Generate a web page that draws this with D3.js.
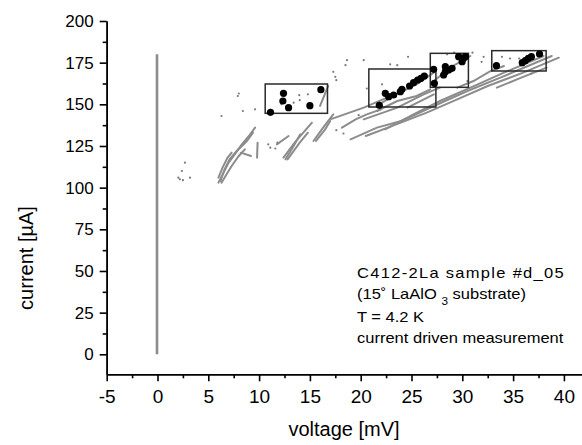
<!DOCTYPE html>
<html>
<head>
<meta charset="utf-8">
<script src="https://cdn.jsdelivr.net/npm/d3@7"></script>
<style>
  body { margin: 0; background: #fff; }
  svg { font-family: "Liberation Sans", Arial, Helvetica, sans-serif; }
  .axis path, .axis line { stroke: #000; stroke-width: 1.6; }
  .axis text { fill: #000; }
</style>
</head>
<body>
<div id="chart-area"></div>
<script>
// tick values
const xTicks = [-5, 0, 5, 10, 15, 20, 25, 30, 35, 40]
const yTicks = [0, 25, 50, 75, 100, 125, 150, 175, 200]

// vertical supercurrent branch near 0 mV
const zeroBranch = [[-0.05, 0], [-0.05, 180]]

// gray voltage branches [mV, µA]
const streaks = [
  [[6.0, 103], [6.5, 109], [7.0, 115], [7.6, 120], [8.3, 126], [9.0, 131], [9.6, 136]],
  [[6.3, 103], [6.8, 108], [7.3, 113], [8.0, 119], [8.6, 123]],
  [[6.0, 106], [6.4, 112], [6.9, 118], [7.3, 121]],
  [[6.2, 104], [6.6, 111], [7.1, 117], [7.8, 122], [8.8, 128], [9.4, 133]],
  [[9.8, 118], [9.85, 127]],
  [[8.2, 121], [9.2, 119]],
  [[11.75, 126], [12.9, 131]],
  [[12.6, 117], [13.3, 124], [14.05, 132]],
  [[12.4, 118], [13.5, 127], [15.2, 139]],
  [[12.8, 117], [14.0, 127], [14.8, 133]],
  [[15.35, 128], [16.3, 136], [17.3, 144]],
  [[15.6, 128], [16.5, 135], [17.0, 140]],
  [[16.0, 149], [16.4, 155], [16.8, 161]],
  [[18.15, 136], [19.5, 141], [20.6, 144], [22.0, 147]],
  [[19.0, 129], [21.6, 136], [24.0, 140], [27.2, 149], [30.5, 158], [33.75, 166], [38.8, 179]],
  [[22.4, 135], [25.2, 144], [27.8, 152], [30.8, 160], [34.1, 169], [38.0, 179]],
  [[20.5, 131], [23.5, 138], [26.5, 145], [29.5, 153], [32.5, 161], [36.0, 169], [39.5, 178]],
  [[17.0, 141], [20.3, 148], [22.6, 154]],
  [[20.3, 141], [23.6, 148], [26.2, 156], [27.8, 160]],
  [[21.6, 146], [23.6, 152], [25.5, 155], [26.85, 159]],
  [[24.6, 148], [27.2, 156]],
  [[21.8, 150], [23.5, 156], [25.5, 162], [27.2, 169]],
  [[27.2, 164], [28.8, 172], [30.8, 179]],
  [[29.5, 160], [31.1, 164], [32.8, 170], [34.1, 173]],
  [[33.4, 160], [35.8, 166], [38.3, 172]]
]

// loose gray points
const scatter = [
  [6.3, 143], [7.9, 155], [8.0, 156.5], [8.4, 146], [9.6, 147], [13.4, 151], [13.95, 155.5],
  [14.8, 156], [17.3, 169.5], [17.5, 166.5], [17.6, 164.5], [17.6, 134.5], [11.1, 124],
  [11.6, 123.5], [18.5, 173.5], [18.65, 176.5], [20.3, 176.5], [22.9, 174], [23.6, 173.5],
  [24.66, 178.5], [22.1, 162], [20.6, 159.5], [30.5, 164], [31.9, 175.5], [32.1, 178.5],
  [33.9, 178.5], [34.7, 177.5], [35.6, 177.5], [18.3, 132.5], [19.8, 143.5], [2.7, 115],
  [2.4, 110], [3.2, 106], [2.05, 106], [2.2, 105], [2.5, 104.5], [10.9, 126], [11.8, 127],
  [12.2, 150], [14.0, 152.5], [28.5, 180], [29.2, 181], [31.0, 181], [36.8, 168.5]
]

// black points (marked switching events)
const marked = [
  [11.12, 145.2], [12.4, 156.6], [12.34, 152.0], [12.9, 148.0], [15.0, 149.2], [16.08, 158.8],
  [21.83, 149.4], [22.42, 156.6], [22.75, 154.6], [23.24, 155.6], [23.9, 157.6], [24.06, 159.0],
  [24.81, 161.0], [25.2, 163.0], [25.6, 164.6], [25.93, 165.6], [26.26, 167.0], [27.18, 171.0],
  [27.25, 162.6],
  [28.16, 167.6], [28.33, 169.6], [28.66, 170.6], [28.99, 171.6], [28.33, 172.6], [29.64, 178.6],
  [29.98, 175.6], [30.13, 177.6], [30.3, 178.6],
  [33.36, 173.2], [35.9, 175.0], [36.2, 176.2], [36.5, 177.6], [36.8, 178.6], [37.6, 180.2]
]

// boxes [v0, v1, i0, i1]
const boxes = [
  [10.6, 16.73, 144.6, 162.2],
  [20.8, 27.4, 148.4, 171.2],
  [26.85, 30.6, 160.2, 180.6],
  [32.9, 38.25, 170.0, 182.2]
]

const W = 582, H = 445

const svg = d3.select("#chart-area").append("svg")
  .attr("width", W)
  .attr("height", H)

const x = d3.scaleLinear().domain([-5, 41.8]).range([106.7, 582.2])
const y = d3.scaleLinear().domain([-12, 200]).range([374.3, 21])

// minor ticks
svg.append("g")
  .attr("class", "axis")
  .attr("transform", `translate(0, ${y(-12)})`)
  .call(d3.axisBottom(x).tickValues(xTicks.map(d => d + 2.5).filter(d => d < 41.8)).tickSize(4).tickSizeOuter(0).tickFormat(""))
svg.append("g")
  .attr("class", "axis")
  .attr("transform", `translate(${x(-5)}, 0)`)
  .call(d3.axisLeft(y).tickValues(yTicks.map(d => d + 12.5).filter(d => d < 200)).tickSize(4).tickSizeOuter(0).tickFormat(""))

// major axes
const xAxis = svg.append("g")
  .attr("class", "axis")
  .attr("transform", `translate(0, ${y(-12)})`)
  .call(d3.axisBottom(x).tickValues(xTicks).tickSize(7).tickSizeOuter(0).tickPadding(8).tickFormat(d => String(d)))
xAxis.selectAll("text").attr("font-size", "19px")

const yAxis = svg.append("g")
  .attr("class", "axis")
  .attr("transform", `translate(${x(-5)}, 0)`)
  .call(d3.axisLeft(y).tickValues(yTicks).tickSize(7).tickSizeOuter(0).tickPadding(6))
yAxis.selectAll("text").attr("font-size", "17px")

// axis titles
svg.append("text")
  .attr("x", 344)
  .attr("y", 436)
  .attr("text-anchor", "middle")
  .attr("font-size", "20px")
  .text("voltage [mV]")

svg.append("text")
  .attr("transform", "translate(33, 258) rotate(-90)")
  .attr("text-anchor", "middle")
  .attr("font-size", "20px")
  .text("current [µA]")

// data
const line = d3.line().x(d => x(d[0])).y(d => y(d[1]))

svg.append("path")
  .attr("d", line(zeroBranch))
  .attr("fill", "none")
  .attr("stroke", "#8c8c8c")
  .attr("stroke-width", 2.6)

svg.append("g").selectAll("path")
  .data(streaks)
  .enter().append("path")
  .attr("d", line)
  .attr("fill", "none")
  .attr("stroke", "#8c8c8c")
  .attr("stroke-width", 2)
  .attr("stroke-linecap", "round")

svg.append("g").selectAll("circle")
  .data(scatter)
  .enter().append("circle")
  .attr("cx", d => x(d[0]))
  .attr("cy", d => y(d[1]))
  .attr("r", 1.1)
  .attr("fill", "#7a7a7a")

svg.append("g").selectAll("rect")
  .data(boxes)
  .enter().append("rect")
  .attr("x", d => x(d[0]))
  .attr("y", d => y(d[3]))
  .attr("width", d => x(d[1]) - x(d[0]))
  .attr("height", d => y(d[2]) - y(d[3]))
  .attr("fill", "none")
  .attr("stroke", "#2a2a2a")
  .attr("stroke-width", 1.5)

svg.append("g").selectAll("circle")
  .data(marked)
  .enter().append("circle")
  .attr("cx", d => x(d[0]))
  .attr("cy", d => y(d[1]))
  .attr("r", 3.6)
  .attr("fill", "#000")

// annotation
const note = svg.append("g")
  .attr("transform", "translate(357, 0) scale(1.18, 1)")
  .attr("font-size", "14px")

note.append("text").attr("y", 278).attr("letter-spacing", "1.1px").text("C412-2La sample #d_05")
const l2 = note.append("text").attr("y", 299)
l2.append("tspan").text("(15˚ LaAlO ")
l2.append("tspan").attr("font-size", "10px").attr("dy", 6).text("3")
l2.append("tspan").attr("dy", -6).text(" substrate)")
note.append("text").attr("y", 322).text("T = 4.2 K")
note.append("text").attr("y", 343).text("current driven measurement")
</script>
</body>
</html>
